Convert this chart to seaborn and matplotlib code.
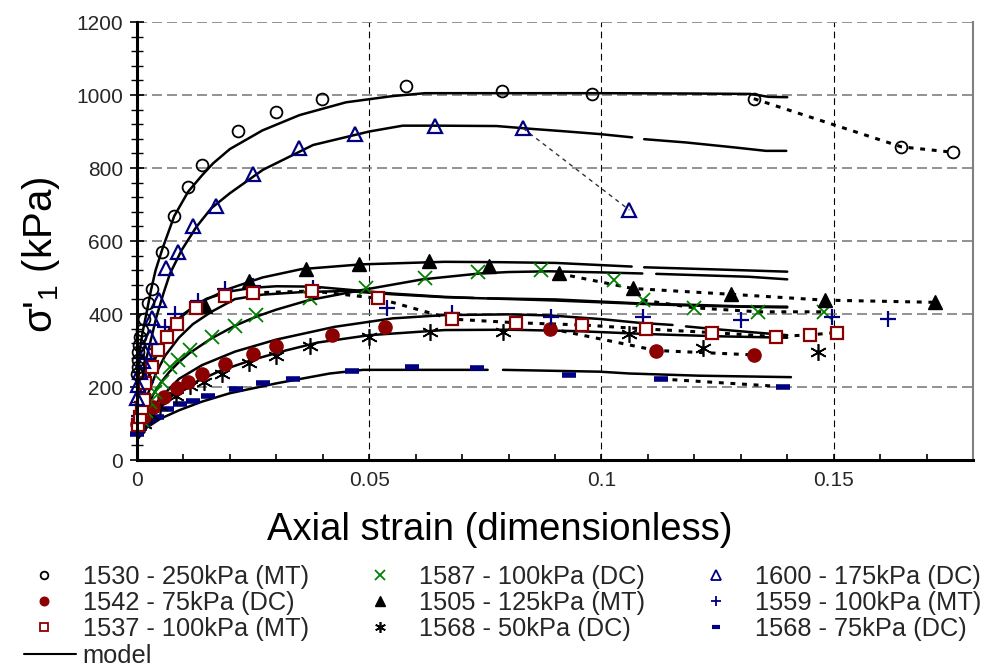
import numpy as np
import pandas as pd
import matplotlib
matplotlib.use("Agg")
import matplotlib.pyplot as plt
import seaborn as sns
from matplotlib.lines import Line2D
from matplotlib.ticker import MultipleLocator, FixedLocator, FuncFormatter

# ---------------- data ----------------
labels = ["1530 - 250kPa (MT)", "1542 - 75kPa (DC)", "1537 - 100kPa (MT)",
          "1587 - 100kPa (DC)", "1505 - 125kPa (MT)", "1568 - 50kPa (DC)",
          "1600 - 175kPa (DC)", "1559 - 100kPa (MT)", "1568 - 75kPa (DC)"]

s1530_x = [0.0, 0.0001, 0.0002, 0.0003, 0.0004, 0.0006, 0.0010, 0.0015, 0.0024, 0.0033, 0.0054,
           0.0080, 0.0110, 0.0140, 0.0218, 0.0299, 0.0398, 0.0580, 0.0786, 0.0979, 0.1328, 0.1646, 0.1758]
s1530_y = [235, 255, 275, 295, 315, 336, 356, 386, 429, 469, 569, 668, 749, 809, 902, 953, 990,
           1024, 1012, 1002, 990, 858, 843]

s1542_x = [0.0, 0.0014, 0.0035, 0.0057, 0.0085, 0.0110, 0.0140, 0.0189, 0.0249, 0.0300, 0.0420,
           0.0535, 0.0890, 0.1118, 0.1328]
s1542_y = [100, 119, 146, 173, 197, 215, 236, 263, 290, 311, 343, 365, 360, 300, 288]

s1537_x = [0.0003, 0.0007, 0.0010, 0.0014, 0.0017, 0.0032, 0.0046, 0.0064, 0.0085, 0.0128, 0.0189,
           0.0249, 0.0377, 0.0519, 0.0678, 0.0817, 0.0958, 0.1096, 0.1239, 0.1376, 0.1449, 0.1508]
s1537_y = [96, 119, 142, 164, 210, 256, 301, 338, 372, 416, 448, 458, 463, 443, 386, 376, 370, 359,
           349, 338, 343, 349]

s1587_x = [0.0010, 0.0020, 0.0028, 0.0039, 0.0053, 0.0071, 0.0089, 0.0114, 0.0161, 0.0211, 0.0257,
           0.0372, 0.0492, 0.0619, 0.0734, 0.0870, 0.1028, 0.1089, 0.1200, 0.1338, 0.1480]
s1587_y = [110, 135, 160, 187, 215, 256, 274, 301, 336, 367, 397, 443, 470, 500, 516, 521, 493, 438,
           417, 406, 406]

s1505_x = [0.0146, 0.0241, 0.0363, 0.0477, 0.0629, 0.0758, 0.0908, 0.1067, 0.1279, 0.1481, 0.1718]
s1505_y = [423, 490, 522, 537, 546, 532, 511, 470, 454, 438, 432]

s1568a_x = [0.0015, 0.0030, 0.0050, 0.0083, 0.0113, 0.0145, 0.0183, 0.0241, 0.0300, 0.0372, 0.0500,
            0.0630, 0.0788, 0.1059, 0.1218, 0.1467]
s1568a_y = [100, 122, 148, 176, 203, 215, 236, 265, 285, 311, 336, 350, 352, 345, 308, 297]

s1600_x = [0.0, 0.0002, 0.0006, 0.0012, 0.0017, 0.0028, 0.0032, 0.0048, 0.0062, 0.0089, 0.0121,
           0.0169, 0.0250, 0.0349, 0.0470, 0.0642, 0.0831, 0.1060]
s1600_y = [170, 205, 240, 270, 297, 336, 388, 438, 525, 571, 641, 696, 783, 854, 893, 915, 909, 685]

s1559_x = [0.0005, 0.0010, 0.0020, 0.0030, 0.0040, 0.0060, 0.0082, 0.0132, 0.0189, 0.0249, 0.0379,
           0.0538, 0.0679, 0.0892, 0.1089, 0.1300, 0.1497, 0.1618]
s1559_y = [120, 160, 215, 262, 303, 365, 400, 436, 468, 478, 470, 416, 402, 393, 393, 384, 391, 386]

s1568b_x = [0.0000, 0.0003, 0.0006, 0.0010, 0.0015, 0.0022, 0.0030, 0.0042, 0.0064, 0.0092, 0.0121,
            0.0153, 0.0214, 0.0272, 0.0336, 0.0462, 0.0591, 0.0731, 0.0930, 0.1128, 0.1390]
s1568b_y = [70, 80, 88, 95, 102, 108, 113, 119, 140, 153, 162, 176, 194, 210, 222, 244, 256, 251,
            233, 222, 201]

# index where the dotted post-peak test line starts
dot_1530, dot_1542, dot_1537, dot_1587, dot_1505, dot_1600, dot_1568b = 20, 12, 11, 17, 6, 16, 19

# model curves (None = gap in the curve)
m1530_x = [0, 0.0002, 0.0006, 0.0012, 0.002, 0.003, 0.004, 0.0055, 0.008, 0.011, 0.014, 0.0164, 0.02,
           0.027, 0.035, 0.045, 0.055, 0.062, 0.08, 0.10, 0.12, 0.132, 0.136, 0.14]
m1530_y = [80, 190, 301, 350, 400, 465, 520, 580, 668, 735, 780, 813, 852, 903, 945, 980, 997, 1005,
           1005, 1005, 1004, 1003, 995, 994]
m1600_x = [0, 0.0005, 0.0015, 0.0028, 0.0042, 0.0057, 0.0071, 0.0096, 0.0128, 0.016, 0.020, 0.0271,
           0.0379, 0.050, 0.0572, 0.065, 0.0774, 0.0852, 0.0916, 0.0996, 0.1066, None, 0.1092, 0.1182,
           0.1282, 0.1354, 0.1398]
m1600_y = [80, 170, 250, 320, 393, 457, 511, 575, 639, 690, 731, 795, 863, 900, 916, 916, 915, 907,
           901, 893, 884, None, 879, 870, 857, 847, 847]
m1505_x = [0, 0.001, 0.002, 0.004, 0.007, 0.010, 0.0146, 0.020, 0.027, 0.0354, 0.0483, 0.0662, 0.078,
           0.090, 0.1032, 0.1065, None, 0.1092, 0.125, 0.140]
m1505_y = [70, 150, 210, 290, 360, 400, 438, 470, 500, 523, 536, 543, 542, 540, 532, 530, None, 528,
           522, 516]
m1587_x = [0, 0.001, 0.002, 0.0035, 0.005, 0.007, 0.009, 0.0112, 0.016, 0.0211, 0.0257, 0.030, 0.037,
           0.0486, 0.0615, 0.0738, 0.080, 0.0888, 0.100, 0.1088, None, 0.1118, 0.1318, 0.140]
m1587_y = [70, 110, 140, 180, 210, 242, 268, 292, 333, 368, 393, 412, 438, 466, 495, 511, 515, 517,
           514, 511, None, 510, 502, 495]
m1559_x = [0, 0.001, 0.002, 0.004, 0.006, 0.009, 0.012, 0.015, 0.020, 0.025, 0.030, 0.038, 0.046,
           0.055, 0.0662, 0.0725, None, 0.0755, 0.090, 0.100, 0.110, 0.120, 0.130, 0.140]
m1559_y = [70, 150, 205, 280, 335, 385, 420, 442, 462, 472, 476, 475, 466, 456, 447, 444, None, 443,
           440, 434, 428, 425, 421, 420]
m1537_x = [0, 0.001, 0.002, 0.004, 0.006, 0.009, 0.012, 0.016, 0.0211, 0.027, 0.0354, 0.045, 0.055,
           0.0662, 0.080, 0.090, 0.100, 0.110, 0.120, 0.130, 0.140]
m1537_y = [70, 125, 170, 235, 285, 335, 372, 406, 441, 453, 460, 463, 454, 446, 441, 437, 432, 427,
           423, 420, 418]
m1542_x = [0, 0.002, 0.005, 0.009, 0.014, 0.0211, 0.030, 0.0426, 0.055, 0.0662, 0.080, 0.089, 0.100,
           0.108, 0.1153, None, 0.1182, 0.125, 0.140]
m1542_y = [70, 118, 170, 222, 260, 297, 330, 365, 388, 397, 399, 396, 386, 376, 370, None, 366, 358, 342]
m1568a_x = [0, 0.002, 0.005, 0.008, 0.012, 0.018, 0.025, 0.032, 0.039, 0.050, 0.0662, 0.080, 0.095,
            0.110, 0.125, 0.140]
m1568a_y = [65, 105, 148, 180, 210, 245, 275, 300, 322, 342, 356, 357, 353, 345, 339, 335]
m1568b_x = [0, 0.002, 0.005, 0.0092, 0.014, 0.020, 0.030, 0.0415, 0.0487, 0.0645, 0.0755, None, 0.0788,
            0.0996, 0.106, 0.121, 0.1408]
m1568b_y = [55, 88, 113, 137, 160, 183, 210, 237, 247, 247, 247, None, 247, 242, 237, 231, 227]

# ---------------- styling ----------------
sns.set_theme(style="white")
plt.rcParams["font.family"] = ["Liberation Sans", "DejaVu Sans"]
plt.rcParams["mathtext.fontset"] = "custom"
plt.rcParams["mathtext.rm"] = "Liberation Sans"
plt.rcParams["mathtext.it"] = "Liberation Sans:italic"
plt.rcParams["mathtext.default"] = "regular"

DRED = "#8B0000"
NAVY = "#000080"
GREEN = "#008000"

fig = plt.figure(figsize=(9.88, 6.69), dpi=100)
ax = fig.add_axes([0.1387, 0.3124, 0.8461, 0.6547])

# model curves
rows = []
seg = 0
for mx, my in [(m1530_x, m1530_y), (m1600_x, m1600_y), (m1505_x, m1505_y), (m1587_x, m1587_y),
               (m1559_x, m1559_y), (m1537_x, m1537_y), (m1542_x, m1542_y), (m1568a_x, m1568a_y),
               (m1568b_x, m1568b_y)]:
    seg += 1
    for xv, yv in zip(mx, my):
        if xv is None:
            seg += 1
            continue
        rows.append({"x": xv, "y": yv, "seg": seg})
models = pd.DataFrame(rows)
sns.lineplot(data=models, x="x", y="y", units="seg", estimator=None, sort=False,
             color="black", lw=1.8, ax=ax, legend=False, zorder=2)

# dotted post-peak data lines
for xs, ys, i0 in [(s1530_x, s1530_y, dot_1530), (s1542_x, s1542_y, dot_1542),
                   (s1537_x, s1537_y, dot_1537), (s1587_x, s1587_y, dot_1587),
                   (s1505_x, s1505_y, dot_1505), (s1568b_x, s1568b_y, dot_1568b)]:
    sns.lineplot(x=xs[i0:], y=ys[i0:], sort=False, estimator=None, color="black", lw=2.2,
                 linestyle=(0, (1.6, 2.2)), ax=ax, zorder=2.5)
sns.lineplot(x=s1600_x[dot_1600:], y=s1600_y[dot_1600:], sort=False, estimator=None,
             color="#333333", lw=1.0, linestyle=(0, (3, 3)), ax=ax, zorder=2.5)

st = {
    "1530": dict(marker="o", ms=8.5, mfc="none", mec="black", mew=1.3),
    "1542": dict(marker="o", ms=9.5, mfc=DRED, mec=DRED, mew=1),
    "1537": dict(marker="s", ms=8.3, mfc="white", mec=DRED, mew=1.6),
    "1587": dict(marker="x", ms=10.5, mec=GREEN, mew=1.3),
    "1505": dict(marker="^", ms=10, mfc="black", mec="black", mew=1),
    "1568a": dict(marker=(6, 2, 0), ms=12, mec="black", mew=1.2),
    "1600": dict(marker="^", ms=10, mfc="none", mec=NAVY, mew=1.6),
    "1559": dict(marker="+", ms=11.5, mec=NAVY, mew=1.6),
    "1568b": dict(marker="_", ms=9.5, mec=NAVY, mew=4),
}
draw = [("1568b", s1568b_x, s1568b_y), ("1568a", s1568a_x, s1568a_y), ("1542", s1542_x, s1542_y),
        ("1587", s1587_x, s1587_y), ("1559", s1559_x, s1559_y), ("1505", s1505_x, s1505_y),
        ("1537", s1537_x, s1537_y), ("1600", s1600_x, s1600_y), ("1530", s1530_x, s1530_y)]
for k, (key, xs, ys) in enumerate(draw):
    ax.plot(xs, ys, ls="none", zorder=3 + k * 0.1, clip_on=False, **st[key])

# axes
ax.set_xlim(0, 0.18)
ax.set_ylim(0, 1200)
ax.xaxis.set_major_locator(FixedLocator([0, 0.05, 0.1, 0.15]))
ax.xaxis.set_major_formatter(FuncFormatter(lambda v, p: "0" if v == 0 else f"{v:g}"))
ax.xaxis.set_minor_locator(MultipleLocator(0.01))
ax.yaxis.set_major_locator(MultipleLocator(200))
ax.yaxis.set_minor_locator(MultipleLocator(40))
ax.tick_params(axis="x", which="both", direction="in", length=4, width=1.2, color="black",
               labelsize=15, pad=8, bottom=True)
ax.tick_params(axis="y", which="major", direction="inout", length=10, width=1.2, color="black",
               labelsize=15, pad=5, left=True)
ax.tick_params(axis="y", which="minor", direction="inout", length=8, width=1.0, color="black", left=True)
ax.yaxis.grid(True, which="major", color="#7f7f7f", ls=(0, (6, 3)), lw=1.2)
ax.xaxis.grid(True, which="major", color="black", ls=(0, (6, 4)), lw=0.8)
ax.set_axisbelow(True)
for s in ["left", "bottom"]:
    ax.spines[s].set_color("black")
    ax.spines[s].set_linewidth(2.2)
    ax.spines[s].set_zorder(5)
ax.spines["top"].set_visible(False)
ax.spines["right"].set_color("#808080")
ax.spines["right"].set_linewidth(1.5)

ax.set_xlabel("Axial strain (dimensionless)", fontsize=27.5, color="black")
ax.xaxis.set_label_coords(0.434, -0.118)
ax.set_ylabel("σ'$_1$ (kPa)", fontsize=29, color="black")
ax.yaxis.set_label_coords(-0.09, 0.468)

# legend
handles = [Line2D([], [], ls="none", **{**st[k], "ms": st[k]["ms"] * 0.65,
                                       "mew": min(st[k].get("mew", 1), 1.3) if k != "1568b" else 3})
           for k in ["1530", "1542", "1537", "1587", "1505", "1568a", "1600", "1559", "1568b"]]
fig.legend(handles, labels, ncol=3, loc="upper left", bbox_to_anchor=(0.0294, 0.156),
           frameon=False, fontsize=18.3, handlelength=1.2, handletextpad=0.92,
           columnspacing=2.2, labelspacing=0.09, borderaxespad=0, borderpad=0)
fig.legend([Line2D([], [], color="black", lw=1.5)], ["model"], loc="upper left",
           bbox_to_anchor=(0.0243, 0.037), frameon=False, fontsize=18.3, handlelength=2.05,
           handletextpad=0.24, borderaxespad=0, borderpad=0)

fig.savefig("out.png", dpi=100)
